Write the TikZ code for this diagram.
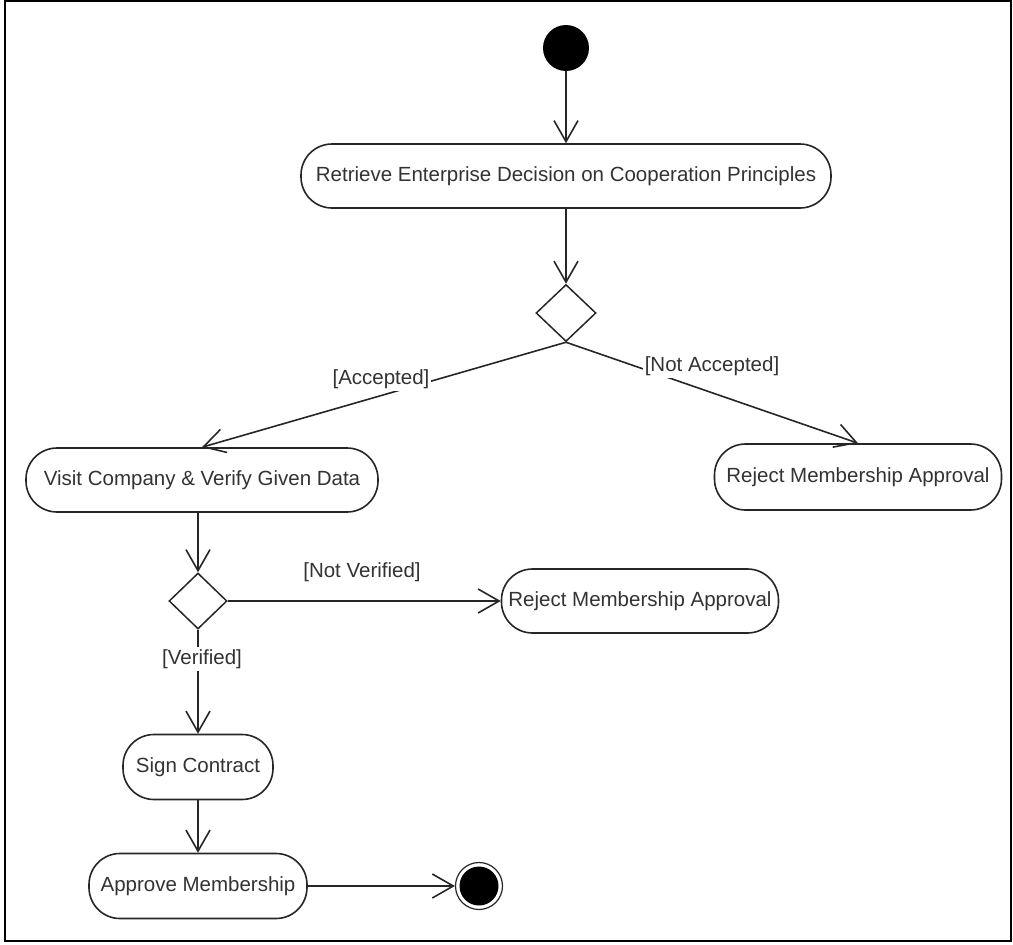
\documentclass[tikz,border=0pt]{standalone}
\usepackage{fontspec}
\setmainfont{Liberation Sans}
\usetikzlibrary{arrows.meta,shapes.geometric}
\begin{document}
\begin{tikzpicture}[x=1pt,y=-1pt,
  font=\fontsize{20.5}{24}\selectfont,
  action/.style={draw=black!85, line width=1.6pt, rounded corners=31pt,
    minimum height=64pt, inner sep=0pt, fill=white, text=black!80},
  decision/.style={draw=black!85, line width=1.5pt, diamond,
    minimum width=60pt, minimum height=57pt, inner sep=0pt, fill=white},
  initial/.style={circle, fill=black, minimum size=46pt, inner sep=0pt},
  final/.style={circle, draw=black!85, line width=1.2pt, fill=white,
    minimum size=47pt, inner sep=0pt},
  flow/.style={draw=black!85, line width=1.6pt,
    -{Straight Barb[length=21pt,width=24pt,line width=1.6pt]}},
  guard/.style={fill=white, inner sep=2pt, text=black!80}]

\useasboundingbox (0,0) rectangle (1013,945);
% outer frame
\draw[line width=2.5pt] (5,1) rectangle (1011,941);

% activity nodes
\node[initial] (start) at (566,48) {};
\node[action, minimum width=530pt] (retrieve) at (566,176)
  {Retrieve Enterprise Decision on Cooperation Principles};
\node[decision] (d1) at (566,313) {};
\node[action, minimum width=352pt] (visit) at (202,480)
  {Visit Company \& Verify Given Data};
\node[action, minimum width=287pt, minimum height=66pt] (reject1) at (858,477)
  {Reject Membership Approval};
\node[decision, minimum width=58pt, minimum height=56pt] (d2) at (198,601) {};
\node[action, minimum width=277pt] (reject2) at (640,601)
  {Reject Membership Approval};
\node[action, minimum width=150pt, minimum height=65pt] (sign) at (198,767)
  {Sign Contract};
\node[action, minimum width=218pt, minimum height=65pt] (approve) at (198,886)
  {Approve Membership};
\node[final] (end) at (479,886) {};
\fill[black] (end.center) circle (19.5pt);

% control flows
\draw[flow] (start) -- (retrieve);
\draw[flow] (retrieve) -- (d1);
\draw[flow] (d1.south) -- (visit.north);
\draw[flow] (d1.south) -- (reject1.north);
\draw[flow] (visit.south -| d2.north) -- (d2.north);
\draw[flow] (d2.east) -- (reject2.west);
\draw[flow] (d2.south) -- (sign.north);
\draw[flow] (sign) -- (approve);
\draw[flow] (approve) -- (end);

% guard labels
\node[guard] (gacc) at (381,379) {[Accepted]};
\node[guard] (gnacc) at (712,366) {[Not Accepted]};
\node[guard] (gnver) at (362,572) {[Not Verified]};
\node[guard] (gver) at (202,659) {[Verified]};
\end{tikzpicture}
\end{document}
